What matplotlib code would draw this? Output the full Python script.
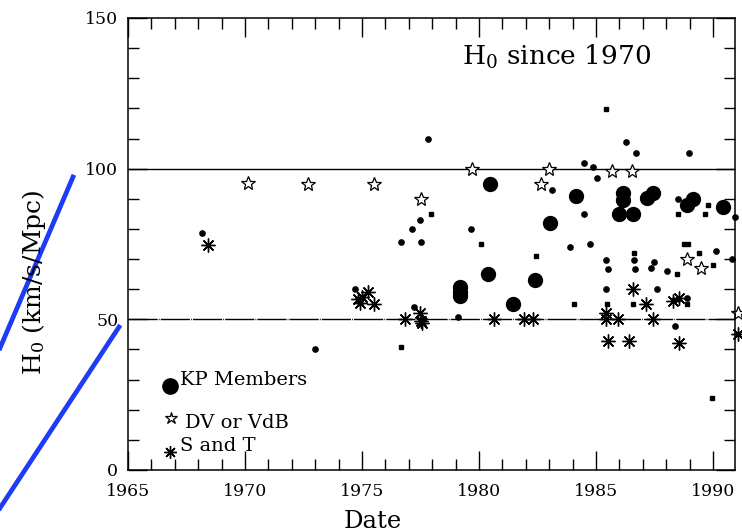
import matplotlib
matplotlib.use("Agg")
import matplotlib.pyplot as plt
from matplotlib.lines import Line2D
from matplotlib.ticker import MultipleLocator

plt.rcParams['font.family'] = ['DejaVu Serif']
plt.rcParams['mathtext.fontset'] = 'dejavuserif'

# ---- data (year, H0 in km/s/Mpc) ----
kp_year = [1979.2, 1979.2, 1979.2, 1980.45, 1980.38, 1981.45, 1982.40, 1983.04,
           1984.15, 1986.0, 1986.57, 1986.14, 1986.14, 1987.2, 1987.42,
           1988.87, 1989.13, 1990.41]
kp_h = [57.7, 59.2, 60.7, 94.9, 65.0, 55.0, 63.0, 81.9,
        91.0, 85.0, 85.0, 89.6, 91.8, 90.2, 91.8,
        88.0, 89.8, 87.2]

dv_year = [1970.11, 1972.71, 1975.5, 1977.5, 1979.71, 1982.98, 1982.65,
           1985.69, 1986.52, 1988.89, 1989.48]
dv_h = [95.1, 95.0, 95.0, 89.8, 99.8, 99.8, 94.9, 99.2, 99.2, 69.9, 66.9]

st_year = [1968.43, 1974.85, 1974.9, 1975.02, 1975.26, 1975.5, 1976.82,
           1977.46, 1977.5, 1977.58, 1980.66, 1981.94, 1982.3, 1985.43,
           1985.43, 1985.93, 1987.42, 1985.5, 1986.43, 1988.53, 1987.13,
           1988.27, 1988.56, 1986.57]
st_h = [74.7, 56.7, 55.3, 57.5, 59.2, 55.0, 50.0,
        52.2, 49.5, 48.7, 50.0, 50.0, 50.0, 52.0,
        50.0, 50.0, 50.0, 42.8, 42.8, 42.0, 55.0,
        56.0, 57.0, 60.0]

dot_year = [1968.15, 1972.98, 1974.69, 1976.68, 1977.15, 1977.21, 1977.46,
            1977.50, 1977.82, 1979.10, 1979.65, 1983.11, 1983.90, 1984.50,
            1984.48, 1984.75, 1984.86, 1985.03, 1985.43, 1985.50, 1985.43,
            1986.28, 1986.71, 1986.64, 1986.68, 1987.49, 1987.35, 1987.60,
            1988.03, 1988.49, 1988.96, 1988.39, 1990.12, 1988.87]
dot_h = [78.8, 40.2, 60.0, 75.8, 79.9, 54.0, 83.0,
         75.8, 109.8, 50.9, 80.0, 92.8, 74.1, 102.0,
         84.9, 74.9, 100.7, 96.8, 69.7, 66.7, 60.0,
         108.8, 105.1, 69.7, 66.7, 68.9, 66.9, 60.0,
         66.0, 89.8, 105.1, 47.8, 72.7, 57.0]

sq_year = [1976.65, 1977.96, 1980.10, 1982.44, 1984.04, 1985.43, 1985.47,
           1986.64, 1986.57, 1988.45, 1988.52, 1988.75, 1988.95, 1988.87,
           1989.41, 1989.64, 1989.80, 1989.98, 1989.95]
sq_h = [40.9, 84.9, 74.9, 71.1, 55.0, 119.8, 55.0,
        72.1, 55.0, 65.0, 84.9, 74.9, 74.9, 55.0,
        71.9, 84.9, 88.0, 68.0, 23.8]

# points sitting on the right frame edge
edge_dot_year = [1990.83, 1990.92]
edge_dot_h = [69.9, 84.0]
edge_star_year = [1991.05]
edge_star_h = [52.0]
edge_ast_year = [1991.05]
edge_ast_h = [45.0]

ref_levels = [50, 100]
legend_labels = ["KP Members", "DV or VdB", "S and T"]

# ---- figure ----
fig = plt.figure(figsize=(7.42, 5.31), dpi=100)
ax = fig.add_axes([128/742, 61/531, 607/742, 452/531])
ax.set_xlim(1965, 1990.94)
ax.set_ylim(0, 150)

for lev in ref_levels:
    ax.axhline(lev, color='black', lw=1.0, zorder=1,
               linestyle=(0, (21, 0.8, 0.6, 0.8)) if lev == 50 else '-')

ast_marker = (8, 2, 0)
ax.plot(kp_year, kp_h, 'o', color='black', ms=10, zorder=3)
ax.plot(dot_year, dot_h, 'o', color='black', ms=3.8, zorder=3)
ax.plot(sq_year, sq_h, 's', color='black', ms=3.4, zorder=3)
ax.plot(dv_year, dv_h, '*', mfc='white', mec='black', mew=0.9, ms=10, zorder=4)
ax.plot(st_year, st_h, marker=ast_marker, ls='none', color='black', mew=1.0, ms=10, zorder=4)
ax.plot(edge_dot_year, edge_dot_h, 'o', color='black', ms=3.8, clip_on=False)
ax.plot(edge_star_year, edge_star_h, '*', mfc='white', mec='black', mew=0.9, ms=10, clip_on=False)
ax.plot(edge_ast_year, edge_ast_h, marker=ast_marker, ls='none', color='black', mew=1.0, ms=10, clip_on=False)

# legend drawn inside the frame
ax.plot([1966.79], [28.0], 'o', color='black', ms=11)
ax.text(1967.22, 29.9, legend_labels[0], fontsize=14, va='center', ha='left')
ax.plot([1966.82], [17.2], '*', mfc='white', mec='black', mew=0.9, ms=9)
ax.text(1967.43, 15.6, legend_labels[1], fontsize=14, va='center', ha='left')
ax.plot([1966.79], [6.1], marker=ast_marker, ls='none', color='black', mew=1.0, ms=9)
ax.text(1967.22, 8.0, legend_labels[2], fontsize=14, va='center', ha='left')

ax.text(1979.27, 134.4, r"H$_0$ since 1970", fontsize=19, ha='left', va='baseline')

# ticks
ax.xaxis.set_major_locator(MultipleLocator(5))
ax.xaxis.set_minor_locator(MultipleLocator(1))
ax.yaxis.set_major_locator(MultipleLocator(50))
ax.yaxis.set_minor_locator(MultipleLocator(10))
ax.tick_params(which='both', direction='in', top=True, right=True, width=1.0, color='black')
ax.tick_params(which='major', length=14)
ax.tick_params(which='minor', length=8)
ax.tick_params(axis='x', which='major', labelsize=12.5, pad=9)
ax.tick_params(axis='y', which='major', labelsize=12.5, pad=7)
for s in ax.spines.values():
    s.set_linewidth(1.1)
    s.set_color('black')

fig.text(373/742, 1 - 521/531, "Date", fontsize=17.5, ha='center', va='center')
fig.text(34/742, 1 - 282/531, r"H$_0$ (km/s/Mpc)", fontsize=18, rotation=90,
         ha='center', va='center')

# blue annotation strokes at the left
blue = '#1e3cf6'
fig.add_artist(Line2D([0/742, 73/742], [1 - 348/531, 1 - 177/531],
                      transform=fig.transFigure, color=blue, lw=3.4))
fig.add_artist(Line2D([0/742, 119/742], [1 - 508/531, 1 - 327/531],
                      transform=fig.transFigure, color=blue, lw=3.4))

fig.savefig("out.png", dpi=100)
